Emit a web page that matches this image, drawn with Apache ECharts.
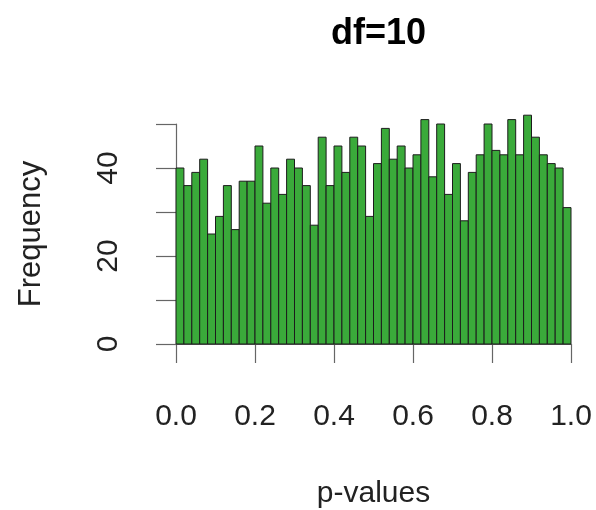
<!DOCTYPE html>
<html>
<head>
<meta charset="utf-8">
<script src="https://cdn.jsdelivr.net/npm/echarts@6/dist/echarts.min.js"></script>
<style>html,body{margin:0;padding:0;background:#fff}#c{width:596px;height:510px}</style>
</head>
<body>
<div id="c"></div>
<script>
const titleText = "df=10";
const xLabel = "p-values";
const yLabel = "Frequency";
const binWidth = 0.02;
const counts = [40,36,39,42,25,29,36,26,37,37,
                45,32,40,34,42,40,36,27,47,36,
                45,39,47,45,29,41,49,42,45,40,
                43,51,38,50,34,41,28,39,43,50,
                44,43,51,43,52,47,43,41,40,31];
const yTickLabels = [0, 20, 40];

const bins = counts.map((c, i) => [+(i*binWidth).toFixed(4), +((i+1)*binWidth).toFixed(4), c]);
const FONT = "Liberation Sans";
const chart = echarts.init(document.getElementById('c'), null, {renderer:'canvas'});
chart.setOption({
  animation:false,
  backgroundColor:'#fff',
  title:{text:titleText, left:373.5, textAlign:'center', top:11,
    textStyle:{fontFamily:FONT, fontWeight:'bold', fontSize:36, color:'#000'}},
  grid:{left:176, right:25, top:124, bottom:164},
  xAxis:{type:'value', min:0, max:1, interval:0.2, offset:9,
    name:xLabel, nameLocation:'middle', nameGap:126,
    nameTextStyle:{fontFamily:FONT, fontSize:30, color:'#222'},
    axisLine:{show:true, lineStyle:{color:'#666', width:1.2}},
    axisTick:{show:true, length:19, lineStyle:{color:'#666', width:1.2}},
    axisLabel:{fontFamily:FONT, fontSize:30, color:'#222', margin:49,
      formatter:v=>v.toFixed(1)},
    splitLine:{show:false}},
  yAxis:{type:'value', min:0, max:50, interval:10, offset:16,
    name:yLabel, nameLocation:'middle', nameGap:113, nameRotate:90,
    nameTextStyle:{fontFamily:FONT, fontSize:31, color:'#222'},
    axisLine:{show:true, lineStyle:{color:'#666', width:1.2}},
    axisTick:{show:true, length:20, lineStyle:{color:'#666', width:1.2}},
    axisLabel:{fontFamily:FONT, fontSize:30, color:'#222', margin:36, rotate:90,
      formatter:v=> yTickLabels.includes(v) ? String(v) : ''},
    splitLine:{show:false}},
  series:[{
    type:'custom',
    clip:false,
    data:bins,
    renderItem:(params, api)=>{
      const x0=api.value(0), x1=api.value(1), c=api.value(2);
      const p0=api.coord([x0,c]), p1=api.coord([x1,0]);
      return {type:'rect',
        shape:{x:p0[0], y:p0[1], width:p1[0]-p0[0], height:p1[1]-p0[1]},
        style:{fill:'#3aaa3a', stroke:'#1c1c1c', lineWidth:1}};
    }
  }]
});
</script>
</body>
</html>
